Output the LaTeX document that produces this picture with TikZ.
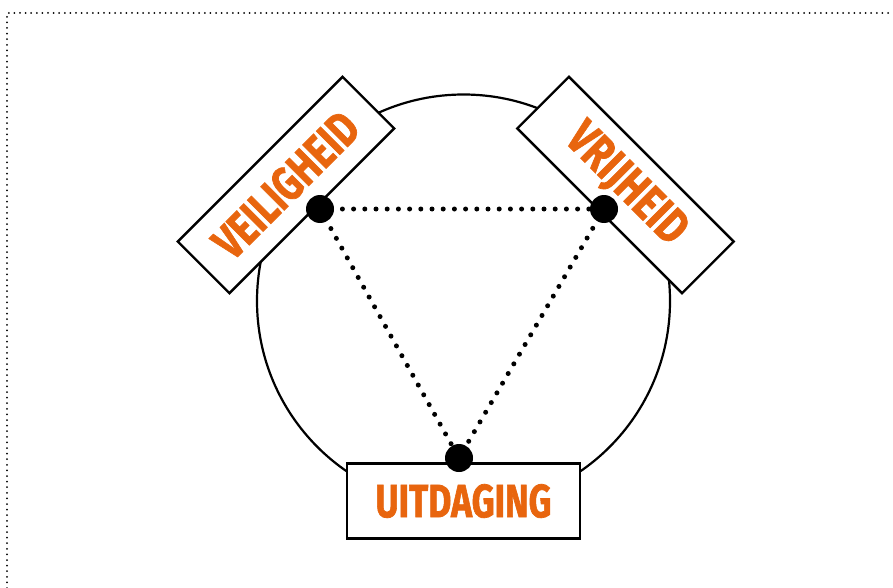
\documentclass[tikz,border=0pt]{standalone}
\usepackage{fontspec}
\usepackage{graphicx}
\newfontfamily\lblfont{Fira Sans}[BoldFeatures={FakeBold=1.6}]
\definecolor{labelorange}{HTML}{E8650E}
\tikzset{
  labelbox/.style={draw=black, line width=2.4pt, fill=white, minimum width=233pt,
    minimum height=73pt, inner sep=0pt, text=labelorange},
  vertexdot/.style={circle, fill=black, minimum size=28pt, inner sep=0pt},
  linkline/.style={line width=5pt, line cap=round, dash pattern=on 0pt off 11.2pt},
  framedots/.style={line width=2pt, line cap=round, dash pattern=on 0pt off 5.6pt}
}
\newcommand{\boxlabel}[3]{\resizebox{#1pt}{#2pt}{\lblfont\bfseries #3}}
\begin{document}
\begin{tikzpicture}[x=1pt,y=-1pt]
  \useasboundingbox (0,0) rectangle (893,588);
  % dotted frame along the top and left
  \draw[framedots] (7,588) -- (7,13) -- (893,13);
  % surrounding circle
  \node[circle, draw=black, line width=2.2pt, minimum size=413pt, inner sep=0pt] (ring) at (463.5,301) {};
  % labelled boxes
  \node[labelbox, rotate=45] (veiligheid) at (286,185) {\boxlabel{184}{34}{VEILIGHEID}};
  \node[labelbox, rotate=-45] (vrijheid) at (625.5,185) {\boxlabel{150}{34}{VRIJHEID}};
  \node[labelbox, minimum height=75pt] (uitdaging) at (463.5,501) {\boxlabel{176}{33}{UITDAGING}};
  % triangle corners
  \coordinate (pv) at (320,209);
  \coordinate (pr) at (604,209);
  \coordinate (pu) at (459,458);
  \draw[linkline] (pv) -- (pr);
  \draw[linkline] (pv) -- (pu);
  \draw[linkline] (pr) -- (pu);
  \node[vertexdot] (dv) at (pv) {};
  \node[vertexdot] (dr) at (pr) {};
  \node[vertexdot] (du) at (pu) {};
\end{tikzpicture}
\end{document}
